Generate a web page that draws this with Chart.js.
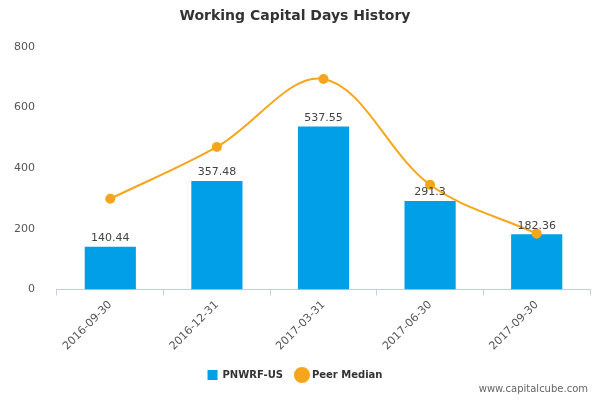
<!DOCTYPE html>
<html><head><script src="https://cdn.jsdelivr.net/npm/chart.js@4"></script>
<style>body{margin:0;background:#fff}#w{width:600px;height:400px;position:relative}#c{position:absolute;right:12px;bottom:6px;font:10px "DejaVu Sans",sans-serif;color:#666}</style></head>
<body><div id="w"><canvas id="cv" width="600" height="400"></canvas><div id="c">www.capitalcube.com</div></div>
<script>
const categories=["2016-09-30","2016-12-31","2017-03-31","2017-06-30","2017-09-30"];
const companyValues=[140.44,357.48,537.55,291.3,182.36];
const companyLabels=["140.44","357.48","537.55","291.3","182.36"];
const peerValues=[299,470,694,345,184];
const yTicks=[0,200,400,600,800];
const labelPlugin={id:'lbl',afterDatasetsDraw(ch){const c=ch.ctx;const m=ch.getDatasetMeta(1);c.save();c.font='11px "DejaVu Sans",sans-serif';c.fillStyle='#444';c.textAlign='center';c.textBaseline='bottom';m.data.forEach((b,i)=>c.fillText(companyLabels[i],b.x,b.y-3));c.restore();}};
new Chart(document.getElementById('cv'),{
data:{labels:categories,datasets:[
{type:'line',label:'Peer Median',data:peerValues,borderColor:'#f7a51c',backgroundColor:'#f7a51c',borderWidth:2,tension:0.35,pointRadius:4,pointHoverRadius:4,pointStyle:'circle',order:0},
{type:'bar',label:'PNWRF-US',data:companyValues,backgroundColor:'#009fe8',barPercentage:0.48,categoryPercentage:1,pointStyle:'rect',order:1}
]},
options:{responsive:false,animation:false,
layout:{padding:{left:0,right:10,top:0,bottom:10}},
plugins:{title:{display:true,text:'Working Capital Days History',font:{family:'DejaVu Sans',size:14,weight:'bold'},color:'#333',padding:{top:8,bottom:22}},
legend:{position:'bottom',reverse:true,labels:{font:{family:'DejaVu Sans',size:10,weight:'bold'},color:'#333',usePointStyle:true,boxWidth:14,boxHeight:10,padding:14}},tooltip:{enabled:false}},
scales:{x:{grid:{display:true,drawOnChartArea:false,color:'#c0d0e0',tickLength:6},border:{color:'#c0d0e0'},ticks:{maxRotation:45,minRotation:45,font:{family:'DejaVu Sans',size:11},color:'#555'}},
y:{min:0,max:800,afterBuildTicks:a=>{a.ticks=yTicks.map(v=>({value:v}));},grid:{display:false},border:{display:false},ticks:{font:{family:'DejaVu Sans',size:11},color:'#555',padding:14}}}},
plugins:[labelPlugin]});
</script></body></html>
